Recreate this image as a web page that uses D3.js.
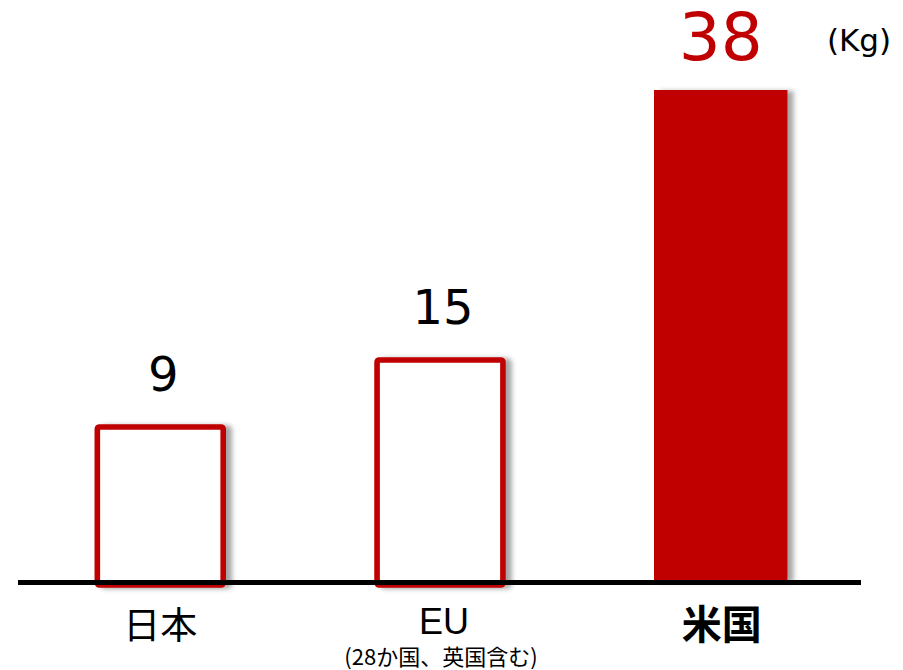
<!DOCTYPE html>
<html>
<head>
<meta charset="utf-8">
<script src="https://cdn.jsdelivr.net/npm/d3@7"></script>
<style>
  body{margin:0;background:#fff;}
  svg{display:block;}
</style>
</head>
<body>
<svg id="chart" width="903" height="670"></svg>
<script>
'use strict';

// values
var categories=['日本','EU','米国'];
var values=[9,15,38];
var highlight=[false,false,true];
var subLabels=['','(28か国、英国含む)',''];
var unitLabel='(Kg)';

var red='#c00000'
  , svg=d3.select('#chart');

// bars are not drawn to a proportional scale in the source, so a piecewise scale
var y=d3.scaleLinear()
    .domain([0,9,15,38])
    .range([581,427,360,90]);

var x=d3.scaleBand()
    .domain(categories)
    .range([19,861])
    .paddingInner(0.53)
    .paddingOuter(0.27);

var defs=svg.append('defs');
var f=defs.append('filter')
    .attr('id','shadow')
    .attr('x','-10%').attr('y','-10%')
    .attr('width','130%').attr('height','120%');
f.append('feDropShadow')
    .attr('dx',6).attr('dy',1)
    .attr('stdDeviation',2.5)
    .attr('flood-color','#000')
    .attr('flood-opacity',0.35);

var data=categories.map(function(c,i){
    return {cat:c,val:values[i],hi:highlight[i],sub:subLabels[i]};
});

var bars=svg.append('g');

bars.selectAll('rect.bar')
    .data(data)
    .enter().append('rect')
    .attr('class','bar')
    .attr('x',function(d){ return d.hi ? x(d.cat) : x(d.cat)+2.8; })
    .attr('y',function(d){ return y(d.val); })
    .attr('width',function(d){ return d.hi ? x.bandwidth()+2 : x.bandwidth()-5.6; })
    .attr('height',function(d){ return y(0)-y(d.val)+(d.hi?0:4); })
    .attr('rx',function(d){ return d.hi ? 0 : 2; })
    .attr('fill',function(d){ return d.hi ? red : '#fff'; })
    .attr('stroke',function(d){ return d.hi ? 'none' : red; })
    .attr('stroke-width',5.6)
    .attr('filter','url(#shadow)');

// baseline
svg.append('line')
    .attr('x1',18).attr('x2',861)
    .attr('y1',y(0)+1.5).attr('y2',y(0)+1.5)
    .attr('stroke','#000')
    .attr('stroke-width',5);

// value labels
svg.selectAll('text.val')
    .data(data)
    .enter().append('text')
    .attr('class','val')
    .attr('x',function(d){ return x(d.cat)+x.bandwidth()/2+(d.hi?1:3); })
    .attr('y',function(d){ return d.hi ? 60 : y(d.val)-36; })
    .attr('text-anchor','middle')
    .attr('font-family','"DejaVu Sans", Verdana, sans-serif')
    .attr('font-size',function(d){ return d.hi ? 66 : 48; })
    .attr('fill',function(d){ return d.hi ? red : '#000'; })
    .text(function(d){ return d.val; });

svg.append('text')
    .attr('x',859).attr('y',51)
    .attr('text-anchor','middle')
    .attr('font-family','"DejaVu Sans", Verdana, sans-serif')
    .attr('font-size',31)
    .attr('fill','#000')
    .text(unitLabel);

// category labels
svg.selectAll('text.cat')
    .data(data)
    .enter().append('text')
    .attr('class','cat')
    .attr('x',function(d){ return x(d.cat)+x.bandwidth()/2+(d.hi?2:(d.cat=='EU'?4:0)); })
    .attr('y',function(d){ return d.cat=='EU' ? 634 : 639; })
    .attr('text-anchor','middle')
    .attr('font-family',function(d){
        return d.cat=='EU' ? '"Liberation Sans", Arial, sans-serif' : '"Noto Sans CJK JP", sans-serif';
    })
    .attr('font-size',function(d){ return d.hi ? 40 : (d.cat=='EU' ? 36 : 37); })
    .attr('font-weight',function(d){ return d.hi ? 700 : 400; })
    .attr('fill','#000')
    .text(function(d){ return d.cat; });

svg.selectAll('text.sub')
    .data(data.filter(function(d){ return d.sub; }))
    .enter().append('text')
    .attr('class','sub')
    .attr('x',function(d){ return x(d.cat)+x.bandwidth()/2+1; })
    .attr('y',665)
    .attr('text-anchor','middle')
    .attr('font-family','"Liberation Sans Narrow", "Noto Sans CJK JP", sans-serif')
    .attr('font-size',22)
    .attr('fill','#000')
    .text(function(d){ return d.sub; });
</script>
</body>
</html>
